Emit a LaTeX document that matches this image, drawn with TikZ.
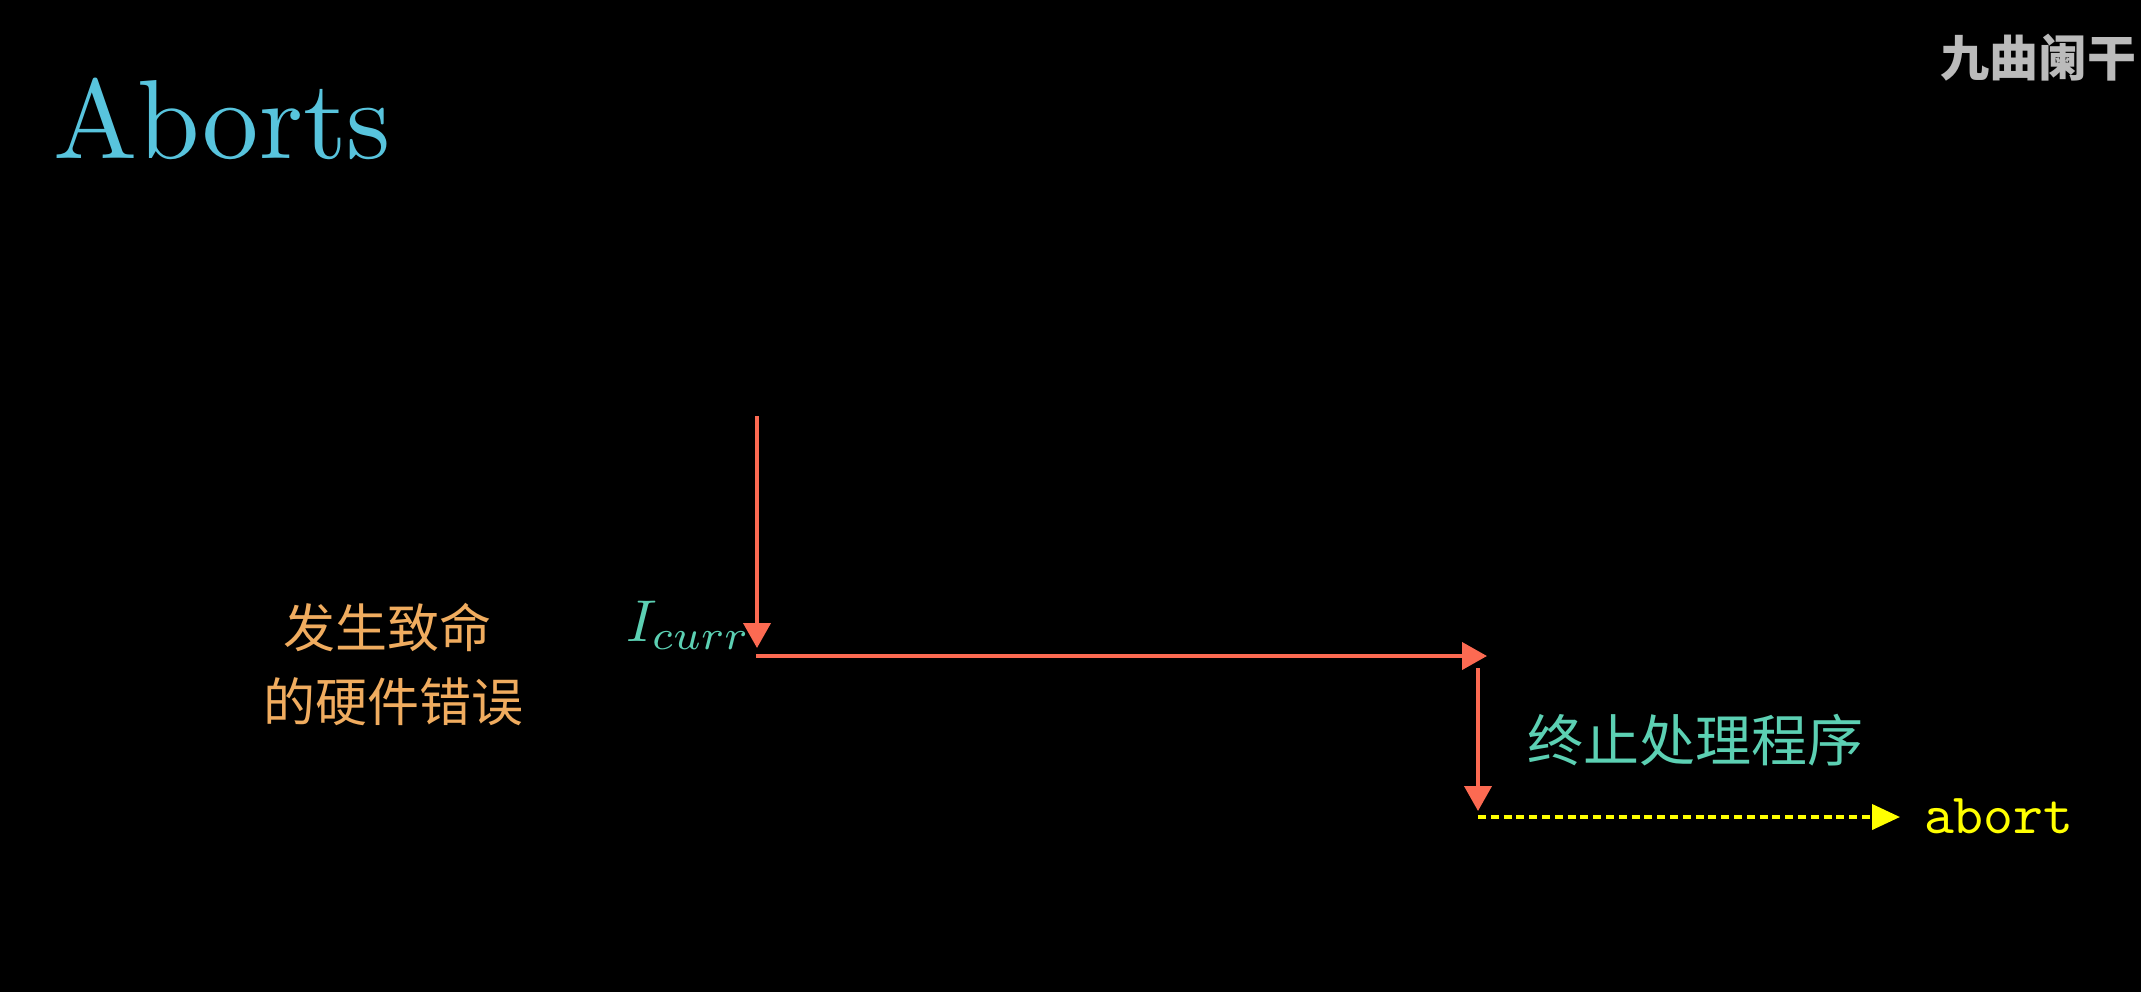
\RequirePackage{fix-cm}
\documentclass[tikz,border=0pt]{standalone}
\usepackage{fontspec}
\newfontfamily\cjk{Noto Sans CJK SC}
\usetikzlibrary{arrows.meta}
\definecolor{titleblue}{HTML}{58C4DD}
\definecolor{arrowred}{HTML}{FC6A52}
\definecolor{tealtxt}{HTML}{5CD0B3}
\definecolor{goldtxt}{HTML}{F0AC5F}
\definecolor{ylw}{HTML}{FFFF00}
\definecolor{wmgray}{HTML}{BBBBBB}
\tikzset{
  redarrow/.style={draw=arrowred, line width=2pt, -{Triangle[width=13.5pt,length=12.5pt]}, arrowred},
  ylwarrow/.style={draw=ylw, line width=2pt, dash pattern=on 4pt off 2.4pt, -{Triangle[width=12.5pt,length=14pt]}, ylw},
  txt/.style={inner sep=0pt, outer sep=0pt},
}
\begin{document}
\begin{tikzpicture}[x=0.5pt,y=-0.5pt]
\fill[black] (0,0) rectangle (2141,992);
\useasboundingbox (0,0) rectangle (2141,992);
% title
\node[txt, anchor=base west, text=titleblue] (title) at (53,158) {\scalebox{5.62}{Aborts}};
% watermark
\node[txt, anchor=center, text=wmgray] (wm) at (2038,58) {\cjk\bfseries\fontsize{24.5}{26}\selectfont 九曲阑干};
% labels
\node[txt, anchor=center, text=goldtxt] (err1) at (387,627) {\cjk\fontsize{26}{28}\selectfont 发生致命};
\node[txt, anchor=center, text=goldtxt] (err2) at (393,702) {\cjk\fontsize{26}{28}\selectfont 的硬件错误};
\node[txt, anchor=base west, text=tealtxt] (icurr) at (626,641) {\scalebox{2.95}{$I_{curr}$}};
\node[txt, anchor=center, text=tealtxt] (handler) at (1695,740) {\cjk\fontsize{28}{30}\selectfont 终止处理程序};
\node[txt, anchor=base west, text=ylw] (abort) at (1924,833) {\scalebox{2.85}{\ttfamily abort}};
% coordinates
\coordinate (a0) at (757,416);
\coordinate (a1) at (757,648);
\coordinate (h0) at (756,656);
\coordinate (h1) at (1487,656);
\coordinate (v0) at (1478,668);
\coordinate (v1) at (1478,811);
\coordinate (d0) at (1478,817);
\coordinate (d1) at (1900,817);
% arrows
\draw[redarrow] (a0) -- (a1);
\draw[redarrow] (h0) -- (h1);
\draw[redarrow] (v0) -- (v1);
\draw[ylwarrow] (d0) -- (d1);
\end{tikzpicture}
\end{document}
